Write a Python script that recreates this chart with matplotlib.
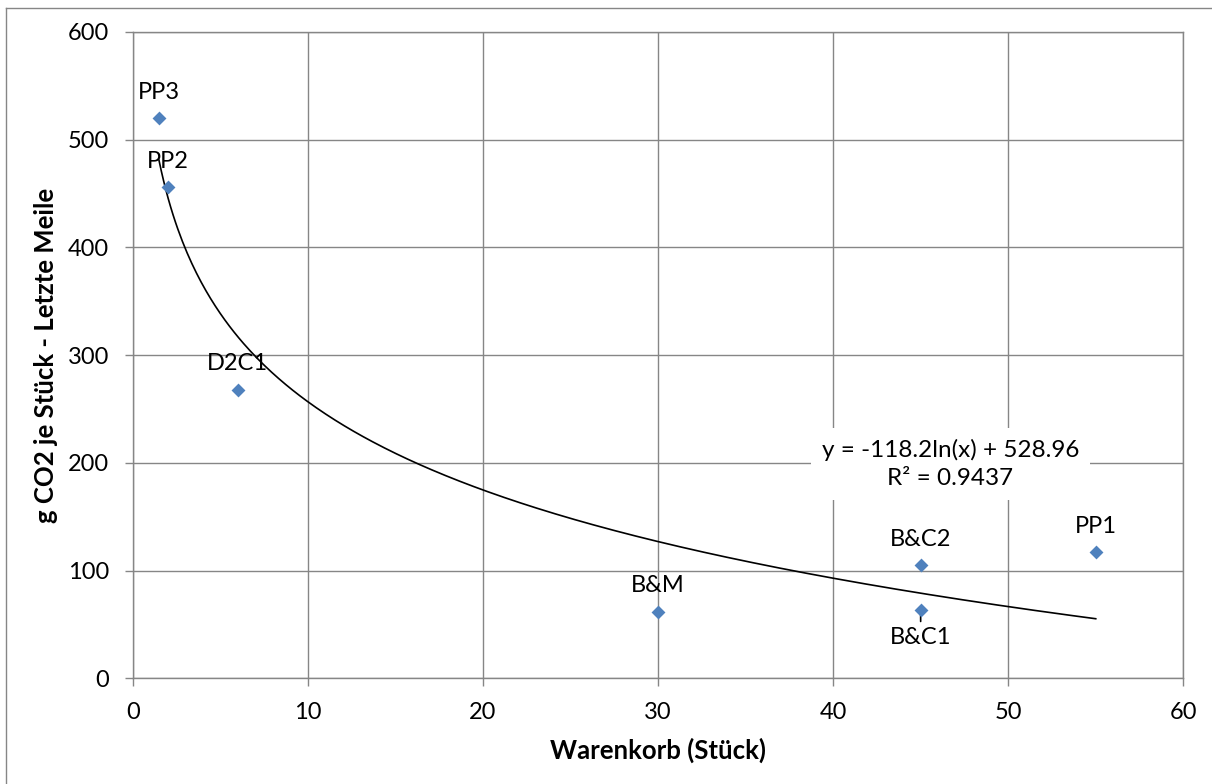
import numpy as np
import matplotlib
matplotlib.use("Agg")
import matplotlib.pyplot as plt
from matplotlib.lines import Line2D

plt.rcParams['font.family'] = ['Lato', 'DejaVu Sans']

# Warenkorb size (pieces) and CO2 per piece on the last mile
labels = ["PP3", "PP2", "D2C1", "B&M", "B&C2", "B&C1", "PP1"]
basket = [1.5, 2, 6, 30, 45, 45, 55]
co2 = [520, 456, 268, 62, 105, 63, 117]
label_below = ["B&C1"]

# logarithmic trend line coefficients
trend_a = -118.2
trend_b = 528.96
r_squared = 0.9437

x_ticks = [0, 10, 20, 30, 40, 50, 60]
y_ticks = [0, 100, 200, 300, 400, 500, 600]

grid_col = "#868686"
marker_col = "#4F81BD"

fig = plt.figure(figsize=(12.12, 7.84), dpi=100)
ax = fig.add_axes([132.7 / 1212, 1 - 678.3 / 784, (1183.3 - 132.7) / 1212, (678.3 - 32) / 784])

# outer chart frame
fig.add_artist(Line2D([6 / 1212, 6 / 1212], [0, 1 - 8 / 784], transform=fig.transFigure, color=grid_col, lw=1))
fig.add_artist(Line2D([6 / 1212, 1], [1 - 8 / 784, 1 - 8 / 784], transform=fig.transFigure, color=grid_col, lw=1))

ax.set_xlim(0, 60)
ax.set_ylim(0, 600)
ax.set_xticks(x_ticks)
ax.set_yticks(y_ticks)
ax.grid(True, color=grid_col, lw=1)
ax.set_axisbelow(True)
for s in ax.spines.values():
    s.set_color(grid_col)
    s.set_linewidth(1)
ax.tick_params(axis='both', direction='out', length=5.8, width=1, color=grid_col,
               labelsize=17, labelcolor='black')
ax.tick_params(axis='y', pad=11)
ax.tick_params(axis='x', pad=11)

# trend line over the data range
xs = np.linspace(min(basket), max(basket), 400)
ax.plot(xs, trend_a * np.log(xs) + trend_b, color='black', lw=1.2, zorder=3)

ax.scatter(basket, co2, marker='D', s=50, color=marker_col, zorder=4, linewidths=0)

for name, xv, yv in zip(labels, basket, co2):
    if name in label_below:
        ax.annotate(name, (xv, yv), xytext=(0, -19.5), textcoords='offset points',
                    ha='center', va='center', fontsize=17,
                    arrowprops=dict(arrowstyle='-', color='black', lw=1.2,
                                    shrinkA=2, shrinkB=0), zorder=3)
    else:
        ax.annotate(name, (xv, yv), xytext=(0, 18.7), textcoords='offset points',
                    ha='center', va='center', fontsize=17, zorder=5)

ax.text(46.7, 199, f"y = {trend_a}ln(x) + {trend_b}\nR² = {r_squared}",
        ha='center', va='center', fontsize=17.5, linespacing=1.45, zorder=6,
        bbox=dict(boxstyle='square,pad=0.45', facecolor='white', edgecolor='none'))

ax.set_xlabel("Warenkorb (Stück)", fontsize=18.5, fontweight='bold', labelpad=11)
ax.set_ylabel("g CO2 je Stück - Letzte Meile", fontsize=18.5, fontweight='bold', labelpad=7)

fig.savefig("out.png", dpi=100)
